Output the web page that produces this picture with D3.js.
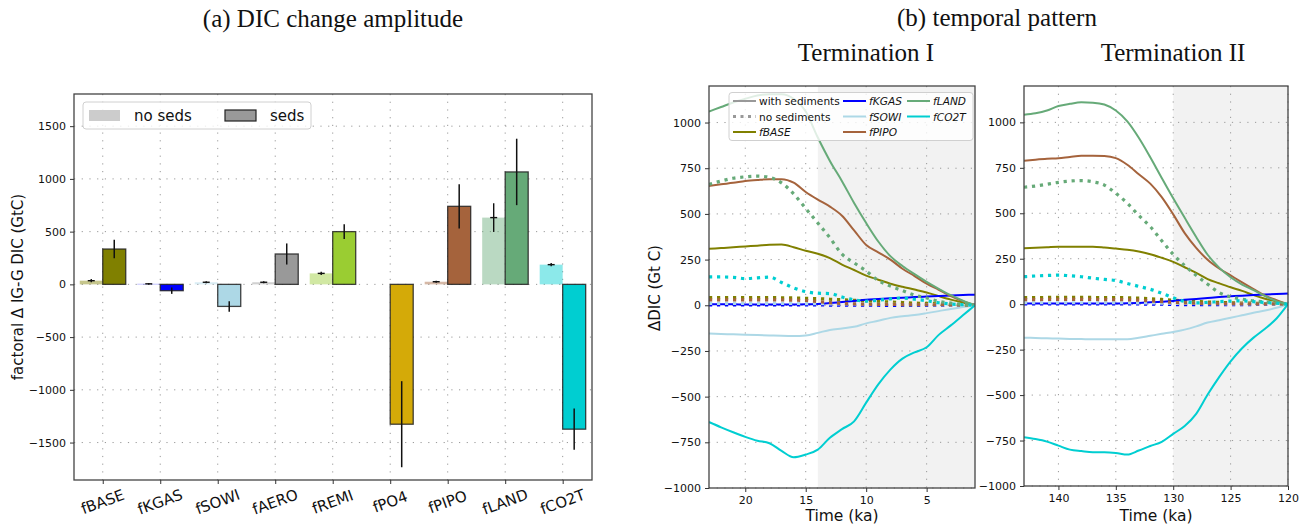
<!DOCTYPE html>
<html><head><meta charset="utf-8">
<script src="https://cdn.jsdelivr.net/npm/d3@7"></script>
<style>body{margin:0;background:#fff}svg{display:block}</style>
</head><body>
<svg id="c" width="1309" height="527"></svg>
<script>
// ---------- Panel (a) data ----------
const categories = ["fBASE","fKGAS","fSOWI","fAERO","fREMI","fPO4","fPIPO","fLAND","fCO2T"];
const barColors = ["#808000","#0000ff","#add8e6","#999999","#9acd32","#d4aa08","#a5633c","#66aa78","#00ced1"];
const noSedsValues = [35, 5, 20, 20, 104, 0, 25, 633, 187];
const noSedsErr    = [15, 8, 10, 10, 15, 0, 10, 136, 15];
const sedsValues   = [335, -60, -209, 288, 500, -1326, 740, 1066, -1373];
const sedsErr      = [88, 30, 50, 100, 70, 408, 210, 315, 196];
const yTicksA = [-1500, -1000, -500, 0, 500, 1000, 1500];

// ---------- Panel (b) data ----------
const seriesNames  = ["fBASE","fKGAS","fSOWI","fPIPO","fLAND","fCO2T"];
const seriesColors = ["#808000","#0000ff","#add8e6","#a5633c","#66aa78","#00ced1"];
const yTicksB = [-1000,-750,-500,-250,0,250,500,750,1000];

// Termination I (ka)
const t1Times = [23,22,21,20,19,18,17,16,15,14,13,12,11,10,9,8,7,6,5,4,3,2,1];
const t1BaseSed = [309,313,317,322,326,331,332,318,298,282,258,223,193,162,140,118,101,86,70,50,31,15,0];
const t1BaseNo  = [42,42,42,42,42,42,41,40,38,36,33,30,27,24,21,18,15,12,10,7,4,2,0];
const t1KgasSed = [5,5,5,4,4,4,4,4,5,7,12,18,24,30,34,38,41,45,48,51,54,56,58];
const t1KgasNo  = [2,2,2,2,2,2,2,2,2,2,1,1,1,0,0,-1,-1,-1,-1,-1,-1,0,0];
const t1SowiSed = [-155,-157,-159,-161,-163,-165,-167,-168,-165,-151,-135,-127,-118,-99,-85,-69,-60,-53,-43,-32,-20,-10,0];
const t1SowiNo  = [10,10,10,10,10,10,10,10,9,9,8,8,7,6,5,5,4,3,3,2,1,1,0];
const t1PipoSed = [653,662,670,680,686,690,690,671,620,578,540,490,410,330,290,250,200,160,118,85,50,22,0];
const t1PipoNo  = [30,30,30,30,30,30,29,28,26,20,14,10,8,6,5,5,4,4,3,3,2,1,0];
const t1LandSed = [1060,1085,1110,1130,1148,1155,1155,1130,1060,918,790,679,560,450,349,269,215,170,128,90,55,25,0];
const t1LandNo  = [662,680,695,703,707,700,670,610,530,450,369,280,232,188,136,105,80,55,40,22,12,5,0];
const t1Co2tSed = [-639,-668,-695,-720,-741,-755,-797,-832,-817,-790,-725,-678,-635,-533,-433,-352,-292,-258,-230,-162,-110,-55,0];
const t1Co2tNo  = [155,155,153,146,150,154,125,95,75,66,64,45,30,22,28,35,40,33,25,14,7,3,0];

// Termination II (ka)
const t2Times = [143,142,141,140,139,138,137,136,135,134,133,132,131,130,129,128,127,126,125,124,123,122,121,120];
const t2BaseSed = [307,310,313,316,316,316,316,312,306,300,290,275,255,233,203,172,138,115,93,73,50,30,15,0];
const t2BaseNo  = [36,36,37,37,37,37,37,36,36,35,33,30,26,22,18,15,12,10,8,6,5,3,2,0];
const t2KgasSed = [4,4,4,4,4,4,4,4,4,5,7,10,14,18,24,29,34,39,43,47,50,53,56,59];
const t2KgasNo  = [1,1,1,1,1,1,1,1,1,1,1,0,0,-2,-3,-3,-3,-3,-3,-2,-2,-1,-1,0];
const t2SowiSed = [-184,-186,-188,-189,-191,-192,-193,-193,-193,-193,-185,-174,-163,-153,-140,-122,-101,-88,-75,-61,-47,-35,-20,0];
const t2SowiNo  = [8,8,8,8,8,8,8,8,8,8,7,7,6,5,4,4,3,3,2,2,1,1,0,0];
const t2PipoSed = [789,795,800,803,810,816,816,815,803,767,715,663,589,494,391,310,244,196,158,120,83,47,22,0];
const t2PipoNo  = [25,25,26,26,26,26,26,25,25,24,22,18,14,10,7,5,4,3,3,2,2,1,1,0];
const t2LandSed = [1042,1050,1065,1090,1102,1110,1108,1098,1065,1005,915,808,694,582,475,370,272,201,148,108,77,45,16,0];
const t2LandNo  = [643,650,660,670,677,680,673,655,610,555,488,427,349,274,212,159,110,64,40,28,18,12,6,0];
const t2Co2tSed = [-732,-742,-756,-778,-800,-808,-814,-814,-818,-827,-805,-780,-757,-713,-670,-603,-497,-401,-314,-242,-184,-135,-79,0];
const t2Co2tNo  = [151,155,158,160,156,151,143,136,130,114,98,82,60,35,15,7,10,14,17,18,14,9,5,0];

const t1Sed = [t1BaseSed,t1KgasSed,t1SowiSed,t1PipoSed,t1LandSed,t1Co2tSed];
const t1No  = [t1BaseNo,t1KgasNo,t1SowiNo,t1PipoNo,t1LandNo,t1Co2tNo];
const t2Sed = [t2BaseSed,t2KgasSed,t2SowiSed,t2PipoSed,t2LandSed,t2Co2tSed];
const t2No  = [t2BaseNo,t2KgasNo,t2SowiNo,t2PipoNo,t2LandNo,t2Co2tNo];

const svg = d3.select("#c");
const SANS = "DejaVu Sans";
const SERIF = "Liberation Serif";
const gridDash = "1.2,6.5";
const fmt = d => (d < 0 ? "\u2212" : "") + Math.abs(d);

function styleAxis(g){
  g.select(".domain").remove();
  g.selectAll(".tick line").attr("stroke","#333").attr("stroke-width",1);
  g.selectAll(".tick text").attr("font-family",SANS).attr("font-size",11).attr("fill","#111");
}
function frame(x0,y0,x1,y1){
  svg.append("rect").attr("x",x0).attr("y",y0).attr("width",x1-x0).attr("height",y1-y0)
    .attr("fill","none").attr("stroke","#444").attr("stroke-width",1.3);
}

// ================= Panel (a) =================
const aL=74, aR=592, aT=94, aB=480;
const xA = d3.scaleLinear().domain([-0.5, 8.51]).range([aL, aR]);
const yA = d3.scaleLinear().domain([-1855, 1805]).range([aB, aT]);
const gA = svg.append("g");
gA.selectAll(".hg").data(yTicksA).join("line")
  .attr("x1",aL).attr("x2",aR).attr("y1",d=>yA(d)).attr("y2",d=>yA(d))
  .attr("stroke","#999").attr("stroke-width",1).attr("stroke-dasharray",gridDash);
gA.selectAll(".vg").data(categories).join("line")
  .attr("x1",(d,i)=>xA(i)).attr("x2",(d,i)=>xA(i)).attr("y1",aT).attr("y2",aB)
  .attr("stroke","#999").attr("stroke-width",1).attr("stroke-dasharray",gridDash);
gA.selectAll(".nb").data(noSedsValues).join("rect")
  .attr("x",(d,i)=>xA(i-0.4)).attr("width",(d,i)=>xA(i)-xA(i-0.4))
  .attr("y",d=>Math.min(yA(d),yA(0))).attr("height",d=>Math.abs(yA(d)-yA(0)))
  .attr("fill",(d,i)=>barColors[i]).attr("fill-opacity",0.45);
gA.selectAll(".sb").data(sedsValues).join("rect")
  .attr("x",(d,i)=>xA(i)).attr("width",(d,i)=>xA(i+0.4)-xA(i))
  .attr("y",d=>Math.min(yA(d),yA(0))).attr("height",d=>Math.abs(yA(d)-yA(0)))
  .attr("fill",(d,i)=>barColors[i]).attr("stroke","#222").attr("stroke-opacity",0.85).attr("stroke-width",1.3);
noSedsValues.forEach((v,i)=>{
  if(categories[i]==="fPO4") return;
  const cx = xA(i-0.2);
  gA.append("line").attr("x1",cx).attr("x2",cx).attr("y1",yA(v-noSedsErr[i])).attr("y2",yA(v+noSedsErr[i]))
    .attr("stroke","#111").attr("stroke-width",1.4);
  gA.append("line").attr("x1",cx-3.5).attr("x2",cx+3.5).attr("y1",yA(v)).attr("y2",yA(v))
    .attr("stroke","#111").attr("stroke-width",1.4);
});
sedsValues.forEach((v,i)=>{
  const cx = xA(i+0.2);
  gA.append("line").attr("x1",cx).attr("x2",cx).attr("y1",yA(v-sedsErr[i])).attr("y2",yA(v+sedsErr[i]))
    .attr("stroke","#111").attr("stroke-width",1.5);
});
frame(aL,aT,aR,aB);
const yAxA = svg.append("g").attr("transform",`translate(${aL},0)`)
  .call(d3.axisLeft(yA).tickValues(yTicksA).tickSize(4).tickPadding(4).tickFormat(fmt));
styleAxis(yAxA);
const xAxA = svg.append("g").attr("transform",`translate(0,${aB})`)
  .call(d3.axisBottom(xA).tickValues(d3.range(categories.length)).tickSize(4).tickFormat(()=>""));
styleAxis(xAxA);
categories.forEach((c,i)=>{
  svg.append("text").attr("transform",`translate(${xA(i)},${aB+22}) rotate(-20)`)
    .attr("text-anchor","middle").attr("dominant-baseline","central")
    .attr("font-family",SANS).attr("font-size",15).attr("fill","#111").text(c);
});
svg.append("text").attr("transform",`translate(18,${(aT+aB)/2}) rotate(-90)`)
  .attr("text-anchor","middle").attr("dominant-baseline","central")
  .attr("font-family",SANS).attr("font-size",15).attr("fill","#111").text("factoral Δ IG-G DIC (GtC)");
svg.append("text").attr("x",(aL+aR)/2).attr("y",18).attr("text-anchor","middle").attr("dominant-baseline","central")
  .attr("font-family",SERIF).attr("font-size",25).attr("fill","#111").text("(a) DIC change amplitude");
const lgA = svg.append("g");
lgA.append("rect").attr("x",83).attr("y",102).attr("width",228).attr("height",27).attr("rx",3)
  .attr("fill","#fff").attr("fill-opacity",0.8).attr("stroke","#d0d0d0");
lgA.append("rect").attr("x",89).attr("y",110).attr("width",31).attr("height",11).attr("fill","#cccccc");
lgA.append("text").attr("x",134).attr("y",116).attr("dominant-baseline","central")
  .attr("font-family",SANS).attr("font-size",15).attr("fill","#111").text("no seds");
lgA.append("rect").attr("x",225).attr("y",110).attr("width",31).attr("height",11)
  .attr("fill","#999999").attr("stroke","#222").attr("stroke-width",1.2);
lgA.append("text").attr("x",270).attr("y",116).attr("dominant-baseline","central")
  .attr("font-family",SANS).attr("font-size",15).attr("fill","#111").text("seds");

// ================= Panel (b) =================
function drawPanel(x0,x1,y0,y1,domX,shadeFrom,ticksX,times,sedArr,noArr,clipId){
  const x = d3.scaleLinear().domain(domX).range([x0,x1]);
  const y = d3.scaleLinear().domain([-1000,1200]).range([y1,y0]);
  const g = svg.append("g");
  g.append("clipPath").attr("id",clipId).append("rect").attr("x",x0).attr("y",y0).attr("width",x1-x0).attr("height",y1-y0);
  g.append("rect").attr("x",x(shadeFrom)).attr("y",y0).attr("width",x(domX[1])-x(shadeFrom)).attr("height",y1-y0).attr("fill","#f2f2f2");
  g.selectAll(".hg").data(yTicksB).join("line")
    .attr("x1",x0).attr("x2",x1).attr("y1",d=>y(d)).attr("y2",d=>y(d))
    .attr("stroke","#999").attr("stroke-dasharray",gridDash);
  g.selectAll(".vg").data(ticksX).join("line")
    .attr("x1",d=>x(d)).attr("x2",d=>x(d)).attr("y1",y0).attr("y2",y1)
    .attr("stroke","#999").attr("stroke-dasharray",gridDash);
  const line = d3.line().x((d,i)=>x(times[i])).y(d=>y(d)).curve(d3.curveMonotoneX);
  const lg = g.append("g").attr("clip-path",`url(#${clipId})`);
  seriesNames.forEach((n,k)=>{
    lg.append("path").attr("d",line(sedArr[k])).attr("fill","none")
      .attr("stroke",seriesColors[k]).attr("stroke-width",2);
    lg.append("path").attr("d",line(noArr[k])).attr("fill","none")
      .attr("stroke",seriesColors[k]).attr("stroke-width",3.2).attr("stroke-dasharray","3.2,4.8");
  });
  frame(x0,y0,x1,y1);
  const ya = svg.append("g").attr("transform",`translate(${x0},0)`)
    .call(d3.axisLeft(y).tickValues(yTicksB).tickSize(4).tickPadding(4).tickFormat(fmt));
  styleAxis(ya);
  const xa = svg.append("g").attr("transform",`translate(0,${y1})`)
    .call(d3.axisBottom(x).tickValues(ticksX).tickSize(4).tickPadding(4).tickFormat(fmt));
  styleAxis(xa);
  svg.append("text").attr("x",(x0+x1)/2).attr("y",516).attr("text-anchor","middle").attr("dominant-baseline","central")
    .attr("font-family",SANS).attr("font-size",15.5).attr("fill","#111").text("Time (ka)");
  return {x,y};
}
drawPanel(709,975,86,488,[23,1],14,[20,15,10,5],t1Times,t1Sed,t1No,"clipL");
drawPanel(1024,1288,86,486,[143,120],130,[140,135,130,125,120],t2Times,t2Sed,t2No,"clipR");

svg.append("text").attr("transform",`translate(655,288) rotate(-90)`)
  .attr("text-anchor","middle").attr("dominant-baseline","central")
  .attr("font-family",SANS).attr("font-size",15).attr("fill","#111").text("ΔDIC (Gt C)");
svg.append("text").attr("x",997).attr("y",17).attr("text-anchor","middle").attr("dominant-baseline","central")
  .attr("font-family",SERIF).attr("font-size",25).attr("fill","#111").text("(b) temporal pattern");
svg.append("text").attr("x",866).attr("y",52).attr("text-anchor","middle").attr("dominant-baseline","central")
  .attr("font-family",SERIF).attr("font-size",25).attr("fill","#111").text("Termination I");
svg.append("text").attr("x",1173).attr("y",52).attr("text-anchor","middle").attr("dominant-baseline","central")
  .attr("font-family",SERIF).attr("font-size",25).attr("fill","#111").text("Termination II");

const lgB = svg.append("g");
lgB.append("rect").attr("x",729).attr("y",92.5).attr("width",244).attr("height",48).attr("rx",3)
  .attr("fill","#fff").attr("fill-opacity",0.8).attr("stroke","#d0d0d0");
const legendItems = [
  {label:"with sediments", color:"#999999", dotted:false, italic:false, col:0, row:0},
  {label:"no sediments", color:"#999999", dotted:true, italic:false, col:0, row:1},
  {label:seriesNames[0], color:seriesColors[0], dotted:false, italic:true, col:0, row:2},
  {label:seriesNames[1], color:seriesColors[1], dotted:false, italic:true, col:1, row:0},
  {label:seriesNames[2], color:seriesColors[2], dotted:false, italic:true, col:1, row:1},
  {label:seriesNames[3], color:seriesColors[3], dotted:false, italic:true, col:1, row:2},
  {label:seriesNames[4], color:seriesColors[4], dotted:false, italic:true, col:2, row:0},
  {label:seriesNames[5], color:seriesColors[5], dotted:false, italic:true, col:2, row:1}
];
const colX = [733, 843, 907];
const rowY = [101, 116.5, 132];
legendItems.forEach(it=>{
  const lx = colX[it.col], ly = rowY[it.row];
  const l = lgB.append("line").attr("x1",lx).attr("x2",lx+23).attr("y1",ly).attr("y2",ly)
    .attr("stroke",it.color);
  if(it.dotted) l.attr("stroke-width",3).attr("stroke-dasharray","3,4.5");
  else l.attr("stroke-width",2);
  lgB.append("text").attr("x",lx+26).attr("y",ly).attr("dominant-baseline","central")
    .attr("font-family",SANS).attr("font-size",10.6).attr("font-style",it.italic?"italic":"normal")
    .attr("fill","#111").text(it.label);
});
</script>
</body></html>
